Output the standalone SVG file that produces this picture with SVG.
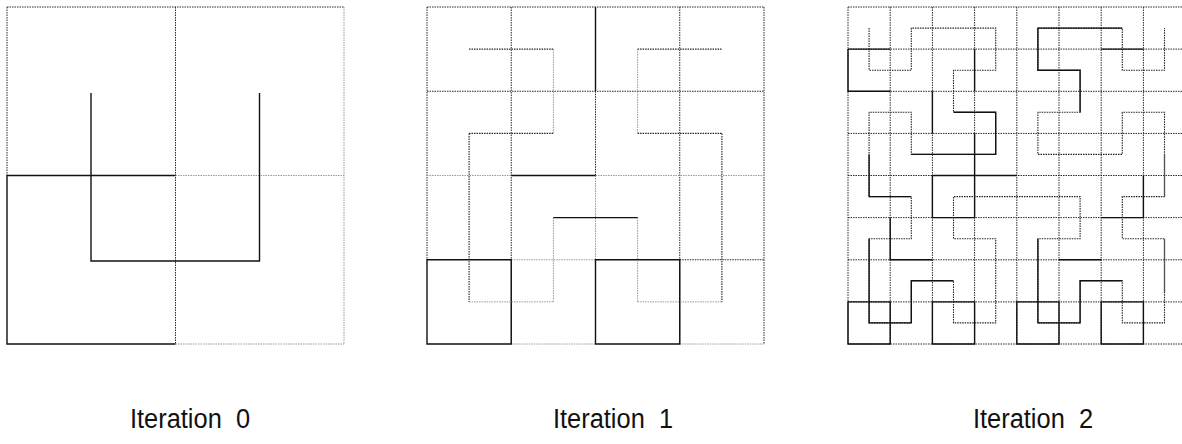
<svg xmlns="http://www.w3.org/2000/svg" width="1182" height="444" viewBox="0 0 1182 444">
<style>
  .gd { fill: none; stroke: #2a2a2a; stroke-width: 1; stroke-dasharray: 1.5 1; }
  .gl { fill: none; stroke: #999; stroke-width: 1; stroke-dasharray: 1.5 1; }
  .cd { fill: none; stroke: #222; stroke-width: 1.1; stroke-dasharray: 1.5 1; }
  .s  { fill: none; stroke: #111; stroke-width: 1.4; stroke-linejoin: miter; }
  .sg { fill: none; stroke: #555; stroke-width: 1.3; }
  .lbl { font-family: "Liberation Sans", Arial, sans-serif; font-size: 27px; fill: #111; }
</style>
<rect width="1182" height="444" fill="#fff"/>

<g id="panel0">
  <g id="grid0">
    <path class="gd" d="M7,7 H344 M175.5,7 V344 M7,7 V175.5"/>
    <path class="gl" d="M344,7 V344 M175.5,175.5 H344 M175.5,344 H344"/>
    <path class="s" d="M175.5,175.5 H7 V344 H175.5"/>
  </g>
  <g id="curve0">
    <polyline class="s" points="91,93 91,261 259.5,261 259.5,93"/>
  </g>
</g>

<g id="panel1">
  <g id="grid1">
    <path class="gd" d="M427,7 H764 M511.25,7 V344 M679.75,7 V344 M427,91.25 H764 M427,7 V259.75 M764,7 V344 M595.5,91.25 V175.5 M679.75,259.75 H764"/>
    <path class="gl" d="M427,175.5 H511.25 M595.5,175.5 H764 M595.5,175.5 V259.75 M511.25,259.75 H595.5 M511.25,344 H595.5 M679.75,344 H764"/>
    <path class="s" d="M427,259.75 h84.25 v84.25 h-84.25 Z M595.5,259.75 h84.25 v84.25 h-84.25 Z M595.5,7 V91.25 M511.25,175.5 H595.5"/>
  </g>
  <g id="curve1">
    <path class="cd" d="M469.1,49.1 H553.4 M637.6,49.1 H721.9 M469.1,133.4 H553.4 M469.1,133.4 V301.9 M637.6,133.4 H721.9 M721.9,133.4 V301.9"/>
    <path class="gl" d="M553.4,49.1 V133.4 M553.4,217.6 V301.9 M469.1,301.9 H553.4 M637.6,49.1 V133.4 M637.6,217.6 V301.9 M637.6,301.9 H721.9"/>
    <path class="s" d="M553.4,217.6 H637.6"/>
  </g>
</g>

<g id="panel2">
  <g id="grid2">
    <path class="gd" d="M848,7 V344 M890.2,7 V344 M932.4,7 V344 M974.6,7 V344 M1016.8,7 V344 M1059,7 V344 M1101.2,7 V344 M1143.4,7 V344 M848,7 H1182 M848,49.1 H1182 M848,91.3 H1182 M848,133.4 H1182 M848,175.5 H1182 M848,217.6 H1182 M848,259.8 H1182 M848,301.9 H1182 M848,344 H1182"/>
    <path class="s" d="M848,301.9 h42.2 v42.1 h-42.2 Z M932.4,301.9 h42.2 v42.1 h-42.2 Z M1016.8,301.9 h42.2 v42.1 h-42.2 Z M1101.2,301.9 h42.2 v42.1 h-42.2 Z M932.4,175.5 h84.4 M932.4,175.5 V217.6 H974.6 V175.5 M1101.2,217.6 H1143.4 V175.5 M890.2,217.6 V259.8 H932.4 M1059,259.8 H1101.2 M932.4,91.3 V133.4 M974.6,49.1 V91.3 M974.6,133.4 V175.5 M848,49.1 H890.2 M848,49.1 V91.3 H890.2 M1101.2,49.1 H1143.4"/>
  </g>
  <g id="curve2">
    <polyline class="cd" points="869.1,28.1 869.1,70.2 911.3,70.2 911.3,28.1 953.5,28.1 995.7,28.1 995.7,70.2 953.5,70.2 953.5,112.3 995.7,112.3 995.7,154.4 953.5,154.4 911.3,154.4 911.3,112.3 869.1,112.3 869.1,154.4 869.1,196.6 911.3,196.6 911.3,238.7 869.1,238.7 869.1,280.8 869.1,322.9 911.3,322.9 911.3,280.8 953.5,280.8 953.5,322.9 995.7,322.9 995.7,280.8 995.7,238.7 953.5,238.7 953.5,196.6 995.7,196.6 1037.9,196.6 1080.1,196.6 1080.1,238.7 1037.9,238.7 1037.9,280.8 1037.9,322.9 1080.1,322.9 1080.1,280.8 1122.3,280.8 1122.3,322.9 1164.5,322.9 1164.5,280.8 1164.5,238.7 1122.3,238.7 1122.3,196.6 1164.5,196.6 1164.5,154.4 1164.5,112.3 1122.3,112.3 1122.3,154.4 1080.1,154.4 1037.9,154.4 1037.9,112.3 1080.1,112.3 1080.1,70.2 1037.9,70.2 1037.9,28.1 1080.1,28.1 1122.3,28.1 1122.3,70.2 1164.5,70.2 1164.5,28.1"/>
    <path class="s" d="M869.1,154.4 V196.6 H911.3 M953.5,112.3 H995.7 V154.4 H911.3 M869.1,238.7 V322.9 H911.3 V280.8 H953.5 M1037.9,238.7 V322.9 H1080.1 V280.8 H1122.3 M1080.1,112.3 V70.2 H1037.9 V28.1 H1122.3"/>
    <path class="sg" d="M1164.5,238.7 V292 M1164.5,154.4 V196.6"/>
  </g>
</g>

<g id="labels">
  <text class="lbl" x="130" y="428" textLength="120" lengthAdjust="spacingAndGlyphs" xml:space="preserve">Iteration  0</text>
  <text class="lbl" x="553" y="428" textLength="120" lengthAdjust="spacingAndGlyphs" xml:space="preserve">Iteration  1</text>
  <text class="lbl" x="973" y="428" textLength="120" lengthAdjust="spacingAndGlyphs" xml:space="preserve">Iteration  2</text>
</g>
</svg>
